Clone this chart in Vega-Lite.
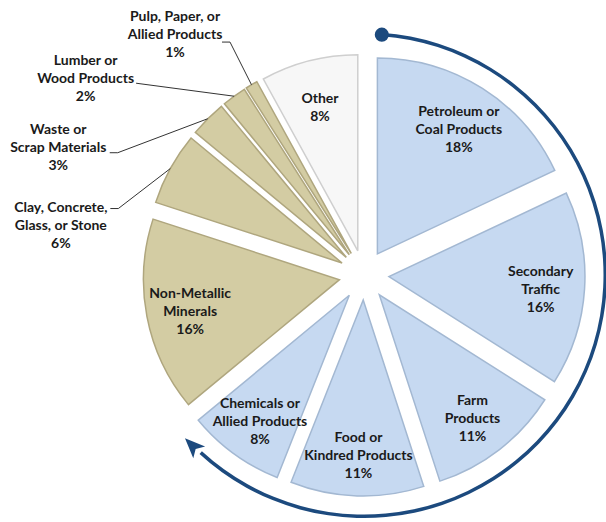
{
  "$schema": "https://vega.github.io/schema/vega-lite/v6.json",
  "width": 484,
  "height": 494,
  "autosize": {"type": "none"},
  "padding": {"left": 122, "top": 28, "right": 0, "bottom": 0},
  "background": "#ffffff",
  "config": {
    "view": {"stroke": null},
    "text": {"font": "Lato", "fontWeight": "bold", "fontSize": 14, "color": "#1a1a1a", "lineHeight": 18, "lineBreak": "\n"}
  },
  "data": {
    "values": [
      {"commodity": "Petroleum or\nCoal Products", "pct": 18, "ord": 1},
      {"commodity": "Secondary\nTraffic", "pct": 16, "ord": 2},
      {"commodity": "Farm\nProducts", "pct": 11, "ord": 3},
      {"commodity": "Food or\nKindred Products", "pct": 11, "ord": 4},
      {"commodity": "Chemicals or\nAllied Products", "pct": 8, "ord": 5},
      {"commodity": "Non-Metallic\nMinerals", "pct": 16, "ord": 6},
      {"commodity": "Clay, Concrete,\nGlass, or Stone", "pct": 6, "ord": 7},
      {"commodity": "Waste or\nScrap Materials", "pct": 3, "ord": 8},
      {"commodity": "Lumber or\nWood Products", "pct": 2, "ord": 9},
      {"commodity": "Pulp, Paper, or\nAllied Products", "pct": 1, "ord": 10},
      {"commodity": "Other", "pct": 8, "ord": 11}
    ]
  },
  "transform": [
    {"stack": "pct", "groupby": [], "sort": [{"field": "ord", "order": "ascending"}], "as": ["s0", "s1"]}
  ],
  "layer": [
    {
      "mark": {
        "type": "arc",
        "outerRadius": 196,
        "strokeWidth": 1.5,
        "xOffset": {"expr": "25*sin(PI*(datum.s0+datum.s1)/100)"},
        "yOffset": {"expr": "-25*cos(PI*(datum.s0+datum.s1)/100)"}
      },
      "encoding": {
        "theta": {"field": "s0", "type": "quantitative", "scale": {"domain": [0, 100]}},
        "theta2": {"field": "s1"},
        "color": {
          "field": "commodity",
          "type": "nominal",
          "legend": null,
          "scale": {
            "domain": ["Petroleum or\nCoal Products", "Secondary\nTraffic", "Farm\nProducts", "Food or\nKindred Products", "Chemicals or\nAllied Products", "Non-Metallic\nMinerals", "Clay, Concrete,\nGlass, or Stone", "Waste or\nScrap Materials", "Lumber or\nWood Products", "Pulp, Paper, or\nAllied Products", "Other"],
            "range": ["#C6D9F1", "#C6D9F1", "#C6D9F1", "#C6D9F1", "#C6D9F1", "#D3CCA3", "#D3CCA3", "#D3CCA3", "#D3CCA3", "#D3CCA3", "#F7F7F7"]
          }
        },
        "stroke": {
          "field": "commodity",
          "type": "nominal",
          "legend": null,
          "scale": {
            "domain": ["Petroleum or\nCoal Products", "Secondary\nTraffic", "Farm\nProducts", "Food or\nKindred Products", "Chemicals or\nAllied Products", "Non-Metallic\nMinerals", "Clay, Concrete,\nGlass, or Stone", "Waste or\nScrap Materials", "Lumber or\nWood Products", "Pulp, Paper, or\nAllied Products", "Other"],
            "range": ["#A3B8D2", "#A3B8D2", "#A3B8D2", "#A3B8D2", "#A3B8D2", "#AFA67E", "#AFA67E", "#AFA67E", "#AFA67E", "#AFA67E", "#CFCFCF"]
          }
        }
      }
    },
    {
      "transform": [{"filter": {"not": {"field": "commodity", "oneOf": ["Clay, Concrete,\nGlass, or Stone", "Waste or\nScrap Materials", "Lumber or\nWood Products", "Pulp, Paper, or\nAllied Products"]}}}],
      "mark": {
        "type": "text",
        "theta": {"expr": "PI*(datum.s0+datum.s1)/100"},
        "radius": 177,
        "dy": {"expr": "4-9*length(split(datum.commodity, '\\n'))"},
        "text": {"expr": "datum.commodity + '\\n' + datum.pct + '%'"}
      },
      "encoding": {}
    },
    {
      "transform": [{"filter": {"field": "commodity", "equal": "Pulp, Paper, or\nAllied Products"}}],
      "layer": [
        {"mark": {"type": "text", "theta": {"expr": "PI*(datum.s0+datum.s1)/100"}, "radius": 221, "dx": -76.5, "dy": -68, "text": {"expr": "datum.commodity + '\\n' + datum.pct + '%'"}}, "encoding": {}},
        {"mark": {"type": "rule", "color": "#333333", "strokeWidth": 1},
         "encoding": {
           "x": {"value": {"expr": "width/2+221*sin(PI*(datum.s0+datum.s1)/100)"}},
           "y": {"value": {"expr": "height/2-221*cos(PI*(datum.s0+datum.s1)/100)"}},
           "x2": {"value": {"expr": "width/2+221*sin(PI*(datum.s0+datum.s1)/100)-21.5"}},
           "y2": {"value": {"expr": "height/2-221*cos(PI*(datum.s0+datum.s1)/100)-42.7"}}
         }},
        {"mark": {"type": "rule", "color": "#333333", "strokeWidth": 1},
         "encoding": {
           "x": {"value": {"expr": "width/2+221*sin(PI*(datum.s0+datum.s1)/100)-21.5"}},
           "y": {"value": {"expr": "height/2-221*cos(PI*(datum.s0+datum.s1)/100)-42.7"}},
           "x2": {"value": {"expr": "width/2+221*sin(PI*(datum.s0+datum.s1)/100)-29.5"}},
           "y2": {"value": {"expr": "height/2-221*cos(PI*(datum.s0+datum.s1)/100)-42.7"}}
         }}
      ]
    },
    {
      "transform": [{"filter": {"field": "commodity", "equal": "Lumber or\nWood Products"}}],
      "layer": [
        {"mark": {"type": "text", "theta": {"expr": "PI*(datum.s0+datum.s1)/100"}, "radius": 221, "dx": -148.5, "dy": -35, "text": {"expr": "datum.commodity + '\\n' + datum.pct + '%'"}}, "encoding": {}},
        {"mark": {"type": "rule", "color": "#333333", "strokeWidth": 1},
         "encoding": {
           "x": {"value": {"expr": "width/2+221*sin(PI*(datum.s0+datum.s1)/100)"}},
           "y": {"value": {"expr": "height/2-221*cos(PI*(datum.s0+datum.s1)/100)"}},
           "x2": {"value": {"expr": "width/2+221*sin(PI*(datum.s0+datum.s1)/100)-98"}},
           "y2": {"value": {"expr": "height/2-221*cos(PI*(datum.s0+datum.s1)/100)-13"}}
         }}
      ]
    },
    {
      "transform": [{"filter": {"field": "commodity", "equal": "Waste or\nScrap Materials"}}],
      "layer": [
        {"mark": {"type": "text", "theta": {"expr": "PI*(datum.s0+datum.s1)/100"}, "radius": 221, "dx": -149.5, "dy": 11, "text": {"expr": "datum.commodity + '\\n' + datum.pct + '%'"}}, "encoding": {}},
        {"mark": {"type": "rule", "color": "#333333", "strokeWidth": 1},
         "encoding": {
           "x": {"value": {"expr": "width/2+221*sin(PI*(datum.s0+datum.s1)/100)"}},
           "y": {"value": {"expr": "height/2-221*cos(PI*(datum.s0+datum.s1)/100)"}},
           "x2": {"value": {"expr": "width/2+221*sin(PI*(datum.s0+datum.s1)/100)-90"}},
           "y2": {"value": {"expr": "height/2-221*cos(PI*(datum.s0+datum.s1)/100)+34"}}
         }},
        {"mark": {"type": "rule", "color": "#333333", "strokeWidth": 1},
         "encoding": {
           "x": {"value": {"expr": "width/2+221*sin(PI*(datum.s0+datum.s1)/100)-90"}},
           "y": {"value": {"expr": "height/2-221*cos(PI*(datum.s0+datum.s1)/100)+34"}},
           "x2": {"value": {"expr": "width/2+221*sin(PI*(datum.s0+datum.s1)/100)-98"}},
           "y2": {"value": {"expr": "height/2-221*cos(PI*(datum.s0+datum.s1)/100)+34"}}
         }}
      ]
    },
    {
      "transform": [{"filter": {"field": "commodity", "equal": "Clay, Concrete,\nGlass, or Stone"}}],
      "layer": [
        {"mark": {"type": "text", "theta": {"expr": "PI*(datum.s0+datum.s1)/100"}, "radius": 221, "dx": -109.5, "dy": 39, "text": {"expr": "datum.commodity + '\\n' + datum.pct + '%'"}}, "encoding": {}},
        {"mark": {"type": "rule", "color": "#333333", "strokeWidth": 1},
         "encoding": {
           "x": {"value": {"expr": "width/2+221*sin(PI*(datum.s0+datum.s1)/100)"}},
           "y": {"value": {"expr": "height/2-221*cos(PI*(datum.s0+datum.s1)/100)"}},
           "x2": {"value": {"expr": "width/2+221*sin(PI*(datum.s0+datum.s1)/100)-52"}},
           "y2": {"value": {"expr": "height/2-221*cos(PI*(datum.s0+datum.s1)/100)+40"}}
         }},
        {"mark": {"type": "rule", "color": "#333333", "strokeWidth": 1},
         "encoding": {
           "x": {"value": {"expr": "width/2+221*sin(PI*(datum.s0+datum.s1)/100)-52"}},
           "y": {"value": {"expr": "height/2-221*cos(PI*(datum.s0+datum.s1)/100)+40"}},
           "x2": {"value": {"expr": "width/2+221*sin(PI*(datum.s0+datum.s1)/100)-60"}},
           "y2": {"value": {"expr": "height/2-221*cos(PI*(datum.s0+datum.s1)/100)+40"}}
         }}
      ]
    },
    {
      "data": {"values": [{"annotation": "direction arrow"}]},
      "layer": [
        {"mark": {"type": "arc", "theta": 0.074, "theta2": 3.885, "innerRadius": 239.5, "outerRadius": 243, "color": "#1C4A7E"}, "encoding": {}},
        {"mark": {"type": "point", "shape": "circle", "filled": true, "opacity": 1, "size": 200, "color": "#1C4A7E",
                  "x": {"expr": "width/2+241*sin(0.074)"}, "y": {"expr": "height/2-241*cos(0.074)"}}, "encoding": {}},
        {"mark": {"type": "point", "shape": "M0,-1L0.75,0.8L0,0.35L-0.75,0.8Z", "filled": true, "opacity": 1, "size": 500, "angle": 315, "color": "#1C4A7E",
                  "x": {"expr": "width/2+242*sin(3.927)"}, "y": {"expr": "height/2-242*cos(3.927)"}}, "encoding": {}}
      ]
    }
  ]
}
